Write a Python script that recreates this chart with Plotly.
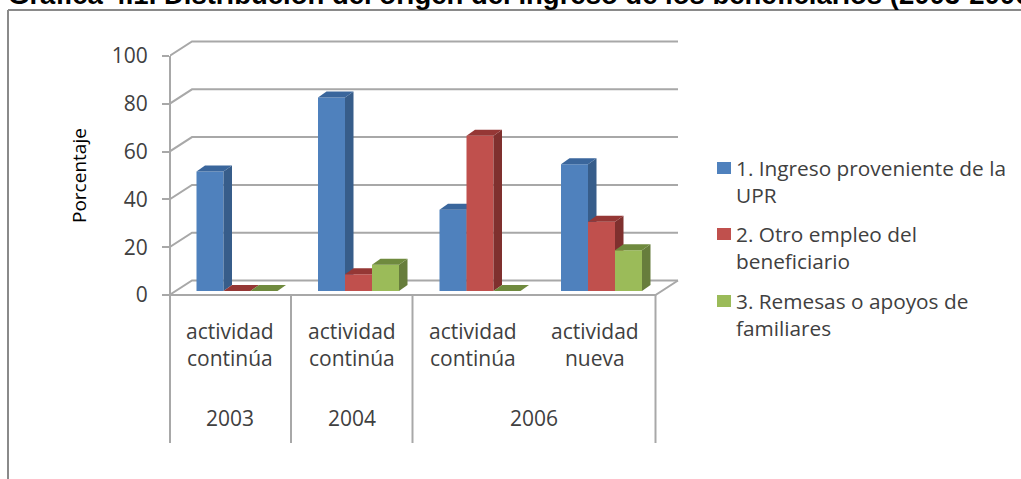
import plotly.graph_objects as go

categories = ["actividad<br>continúa", "actividad<br>continúa", "actividad<br>continúa", "actividad<br>nueva"]
years = ["2003", "2004", "2006"]
year_centers = [0.5, 1.5, 3.0]
year_dividers = [1, 2, 4]
series_names = ["1. Ingreso proveniente de la<br>UPR", "2. Otro empleo del<br>beneficiario", "3. Remesas o apoyos de<br>familiares"]
ingreso_upr = [50, 81, 34, 53]
otro_empleo = [0, 7, 65, 29]
remesas = [0, 11, 0, 17]
y_ticks = [0, 20, 40, 60, 80, 100]

W, H = 1021, 479
PX_L, PX_R, PX_T, PX_B = 170, 690, 28, 450
X0_PX, CAT_PX = 169.5, 121.5
Y0_PX, UNIT_PX = 295, 2.39
x_range = [(PX_L - X0_PX) / CAT_PX, (PX_R - X0_PX) / CAT_PX]
y_range = [(Y0_PX - PX_B) / UNIT_PX, (Y0_PX - PX_T) / UNIT_PX]
WALL_DX, WALL_DY = 22.5 / CAT_PX, 14.5 / UNIT_PX
BAR_W, BAR_START = 27 / CAT_PX, 27 / CAT_PX
BAR_DX, BAR_DY = 8.5 / CAT_PX, 6 / UNIT_PX
BAR_BASE = 4 / UNIT_PX
AXIS_FOOT = (Y0_PX - 443) / UNIT_PX
GRID = "#a8a8a8"
TEXT = "#404040"
FONT = "Open Sans"

fills = [("#4f81bd", "#375d8a", "#3a669c"), ("#c0504d", "#7f302e", "#953735"), ("#9bbb59", "#677d3c", "#6f8a3e")]
values = [ingreso_upr, otro_empleo, remesas]

fig = go.Figure()

# Wall, floor and axis lines
gx, gy = [], []
for t in y_ticks:
    gx += [0, WALL_DX, WALL_DX + 4, None]
    gy += [t, t + WALL_DY, t + WALL_DY, None]
fig.add_trace(go.Scatter(x=gx, y=gy, mode="lines", line=dict(color=GRID, width=2), hoverinfo="skip", showlegend=False))
fig.add_trace(go.Scatter(x=[0, 4, 4 + WALL_DX], y=[0, 0, WALL_DY], mode="lines", line=dict(color=GRID, width=2), hoverinfo="skip", showlegend=False))
dx, dy = [], []
for d in year_dividers:
    dx += [d, d, None]
    dy += [0, AXIS_FOOT, None]
fig.add_trace(go.Scatter(x=dx, y=dy, mode="lines", line=dict(color=GRID, width=2), hoverinfo="skip", showlegend=False))

# Bars: each series sits on its own overlaid axes so that it paints above the previous one
for k, (vals, name, (front, side, top)) in enumerate(zip(values, series_names, fills)):
    xa, ya = f"x{k + 2}", f"y{k + 2}"
    lefts = [i + BAR_START + k * BAR_W for i in range(len(vals))]
    fig.add_trace(go.Bar(x=[l + BAR_W / 2 for l in lefts], y=vals, base=BAR_BASE, width=BAR_W,
                         marker=dict(color=front, line=dict(width=0)), name=name.replace("<br>", " "),
                         xaxis=xa, yaxis=ya, showlegend=False))
    for l, v in zip(lefts, vals):
        r = l + BAR_W
        t = BAR_BASE + v
        if v > 0:
            fig.add_trace(go.Scatter(x=[r, r + BAR_DX, r + BAR_DX, r, r],
                                     y=[BAR_BASE, BAR_BASE + BAR_DY, t + BAR_DY, t, BAR_BASE],
                                     fill="toself", fillcolor=side, mode="lines", line=dict(width=0),
                                     xaxis=xa, yaxis=ya, hoverinfo="skip", showlegend=False))
        fig.add_trace(go.Scatter(x=[l, r, r + BAR_DX, l + BAR_DX, l],
                                 y=[t, t, t + BAR_DY, t + BAR_DY, t],
                                 fill="toself", fillcolor=top, mode="lines", line=dict(width=0),
                                 xaxis=xa, yaxis=ya, hoverinfo="skip", showlegend=False))

annotations = []
for i, c in enumerate(categories):
    annotations.append(dict(x=i + 0.5, y=(Y0_PX - 344) / UNIT_PX, xref="x", yref="y", text=c, showarrow=False,
                            font=dict(family=FONT, size=21, color=TEXT), align="center", yanchor="middle"))
for yr, xc in zip(years, year_centers):
    annotations.append(dict(x=xc, y=(Y0_PX - 418) / UNIT_PX, xref="x", yref="y", text=yr, showarrow=False,
                            font=dict(family=FONT, size=21, color=TEXT), yanchor="middle"))
annotations.append(dict(x=79 / W, y=1 - 176 / H, xref="paper", yref="paper", text="Porcentaje", textangle=-90,
                        showarrow=False, font=dict(family=FONT, size=19, color="#000000"), xanchor="center", yanchor="middle"))
annotations.append(dict(x=6 / W, y=1 - 12 / H, xref="paper", yref="paper", xanchor="left", yanchor="bottom",
                        text="<b>Gráfica 4.1. Distribución del origen del ingreso de los beneficiarios (2003-2006)</b>",
                        showarrow=False, font=dict(family="Liberation Sans", size=27.5, color="#000000")))

shapes = [dict(type="line", xref="paper", yref="paper", x0=8 / W, x1=1, y0=1 - 10 / H, y1=1 - 10 / H, line=dict(color="#8a8a8a", width=2)),
          dict(type="line", xref="paper", yref="paper", x0=8 / W, x1=8 / W, y0=1 - 10 / H, y1=0, line=dict(color="#8a8a8a", width=2)),
          dict(type="line", xref="paper", yref="paper", x0=PX_L / W, x1=PX_L / W, y0=1 - 56 / H, y1=1 - 443 / H, line=dict(color=GRID, width=2))]
legend_rows = [168, 234, 301]
for name, row, (front, _, _) in zip(series_names, legend_rows, fills):
    shapes.append(dict(type="rect", xref="paper", yref="paper", x0=717 / W, x1=731 / W, y0=1 - (row + 6) / H, y1=1 - (row - 6) / H,
                       fillcolor=front, line=dict(width=0)))
    annotations.append(dict(x=734 / W, y=1 - (row - 16) / H, xref="paper", yref="paper", xanchor="left", yanchor="top", align="left",
                            text=name, showarrow=False, font=dict(family=FONT, size=20.8, color=TEXT)))

layout = dict(
    width=W, height=H, margin=dict(l=0, r=0, t=0, b=0), paper_bgcolor="white", plot_bgcolor="rgba(0,0,0,0)",
    showlegend=False, barmode="overlay", annotations=annotations, shapes=shapes,
    xaxis=dict(domain=[PX_L / W, PX_R / W], range=x_range, visible=False, fixedrange=True),
    yaxis=dict(domain=[1 - PX_B / H, 1 - PX_T / H], range=y_range, tickvals=y_ticks, ticks="outside", ticklen=7, tickwidth=2,
               tickcolor=GRID, ticklabelstandoff=10, showgrid=False, zeroline=False, showline=False,
               tickfont=dict(family=FONT, size=21, color=TEXT), fixedrange=True),
)
for n in (2, 3, 4):
    layout[f"xaxis{n}"] = dict(domain=[PX_L / W, PX_R / W], range=x_range, visible=False, overlaying="x", fixedrange=True)
    layout[f"yaxis{n}"] = dict(domain=[1 - PX_B / H, 1 - PX_T / H], range=y_range, visible=False, overlaying="y", fixedrange=True)
fig.update_layout(**layout)

fig.write_html("out.html", config=dict(displayModeBar=False),
               post_script="document.body.style.margin='0';document.body.style.overflow='hidden';")
